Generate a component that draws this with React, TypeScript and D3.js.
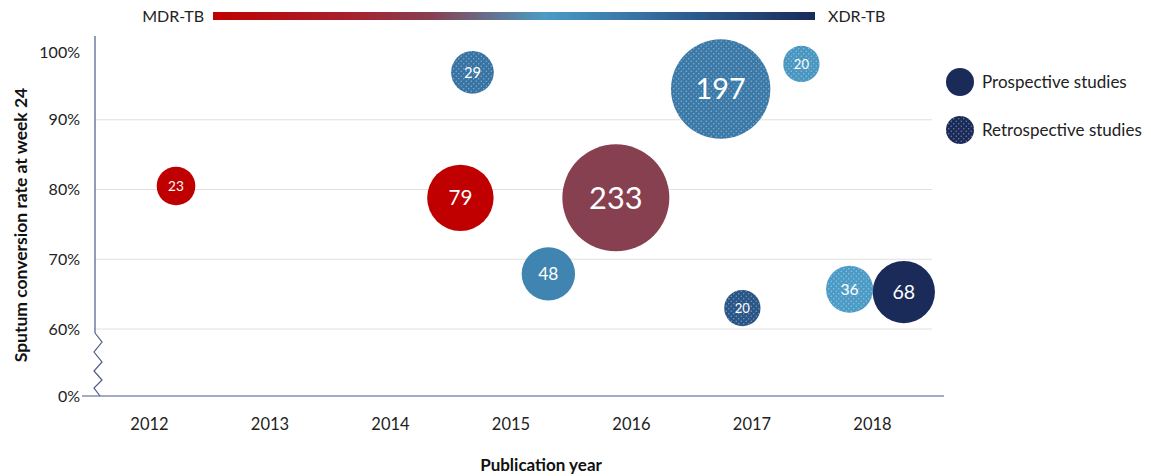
import React from "react";
import * as d3 from "d3";

// ---- data ----
const years = [2012, 2013, 2014, 2015, 2016, 2017, 2018];
const yTicks = [0, 60, 70, 80, 90, 100];
const gridTicks = [60, 70, 80, 90];
// studies
const pubDate = [2012.22, 2014.58, 2014.68, 2015.31, 2015.87, 2016.74, 2016.92, 2017.41, 2017.81, 2018.26];
const conversion = [80.5, 78.8, 96.8, 67.9, 78.8, 94.4, 63.0, 98.0, 65.7, 65.3];
const sampleSize = [23, 79, 29, 48, 233, 197, 20, 20, 36, 68];
const xdrShare = [0, 0, 0.7, 0.64, 0.36, 0.68, 0.82, 0.57, 0.55, 1];
const design = ["P", "P", "R", "P", "P", "R", "R", "R", "R", "P"];
const gradientStops = [0, 0.22, 0.36, 0.55, 0.8, 1];
const legendItems = ["Prospective studies", "Retrospective studies"];

const W = 1151;
const H = 476;

export default function App() {
  const x = d3.scaleLinear().domain([2012, 2018]).range([149.5, 872.5]);
  const y = d3.scaleLinear().domain([0, 60, 100]).range([396, 329, 50]);
  const r = d3.scalePow().exponent(0.44).domain([0, 233]).range([0, 53.5]);
  const gradColors = ["#c00000", "#a8202c", "#86404f", "#4b9bc6", "#2c5a8c", "#1a2b5a"];
  const color = d3.scaleLinear<string>().domain(gradientStops).range(gradColors).interpolate(d3.interpolateRgb);

  const axisX0 = 95;
  const gridX1 = 932;
  const font = "Lato, 'Open Sans', sans-serif";

  // zigzag break path
  const zz = d3.line()([
    [axisX0, 333], [102, 342], [94, 352], [102, 362], [94, 371], [102, 380], [94, 388], [100, 396],
  ]);

  const gradBar = { x0: 213, x1: 815, y: 12, h: 8 };

  const data = pubDate.map((d, i) => ({
    year: d, conv: conversion[i], n: sampleSize[i], t: xdrShare[i], design: design[i],
  }));
  const sorted = [...data].sort((a, b) => b.n - a.n);

  return (
    <svg width={W} height={H} style={{ position: "absolute", left: 0, top: 0, background: "#fff" }}>
      <defs>
        <linearGradient id="mdrxdr" x1="0" x2="1" y1="0" y2="0">
          {gradientStops.map((s, i) => (
            <stop key={i} offset={s} stopColor={gradColors[i]} />
          ))}
        </linearGradient>
        <pattern id="dots" width={5} height={5} patternUnits="userSpaceOnUse">
          <circle cx={1.25} cy={1.25} r={0.65} fill="#fff" fillOpacity={0.45} />
          <circle cx={3.75} cy={3.75} r={0.65} fill="#fff" fillOpacity={0.45} />
        </pattern>
      </defs>

      {/* gradient legend */}
      <rect x={gradBar.x0} y={gradBar.y} width={gradBar.x1 - gradBar.x0} height={gradBar.h} fill="url(#mdrxdr)" />
      <text x={gradBar.x0 - 9} y={gradBar.y + gradBar.h / 2} dy="0.35em" textAnchor="end" fontFamily={font} fontSize={16} fill="#222">MDR-TB</text>
      <text x={gradBar.x1 + 13} y={gradBar.y + gradBar.h / 2} dy="0.35em" textAnchor="start" fontFamily={font} fontSize={16} fill="#222">XDR-TB</text>

      {/* gridlines */}
      {gridTicks.map((t) => (
        <line key={t} x1={axisX0} x2={gridX1} y1={y(t)} y2={y(t)} stroke="#e0e0e0" strokeWidth={1.2} />
      ))}

      {/* axes */}
      <line x1={axisX0} x2={axisX0} y1={36} y2={333} stroke="#4a5a8a" strokeWidth={1.2} />
      <path d={zz || ""} fill="none" stroke="#4a5a8a" strokeWidth={1.2} />
      <line x1={82} x2={944} y1={y(0)} y2={y(0)} stroke="#4a5a8a" strokeWidth={1.2} />

      {/* y tick labels */}
      {yTicks.map((t) => (
        <text key={t} x={80} y={t === 100 ? 52 : y(t)} dy="0.35em" textAnchor="end" fontFamily={font} fontSize={16} fill="#222">
          {t}%
        </text>
      ))}

      {/* x tick labels */}
      {years.map((yr) => (
        <text key={yr} x={x(yr)} y={424} dy="0.35em" textAnchor="middle" fontFamily={font} fontSize={16.5} fill="#222">
          {yr}
        </text>
      ))}

      {/* axis titles */}
      <text x={541} y={465} dy="0.35em" textAnchor="middle" fontFamily={font} fontWeight={700} fontSize={17} fill="#111">
        Publication year
      </text>
      <text transform={`translate(21,225) rotate(-90)`} dy="0.35em" textAnchor="middle" fontFamily={font} fontWeight={700} fontSize={17.5} fill="#111">
        Sputum conversion rate at week 24
      </text>

      {/* bubbles */}
      {sorted.map((d, i) => {
        const cx = x(d.year);
        const cy = y(d.conv);
        const rr = r(d.n);
        return (
          <g key={i}>
            <circle cx={cx} cy={cy} r={rr} fill={color(d.t)} />
            {d.design === "R" && <circle cx={cx} cy={cy} r={rr} fill="url(#dots)" />}
            <text x={cx} y={cy} dy="0.36em" textAnchor="middle" fontFamily={font} fontSize={4 + rr * 0.5} fill="#fff">
              {d.n}
            </text>
          </g>
        );
      })}

      {/* design legend */}
      {legendItems.map((lab, i) => {
        const cy = 82 + i * 48;
        return (
          <g key={lab}>
            <circle cx={960} cy={cy} r={14} fill={color(1)} />
            {i === 1 && <circle cx={960} cy={cy} r={14} fill="url(#dots)" />}
            <text x={982} y={cy} dy="0.35em" fontFamily={font} fontSize={17} fill="#222">{lab}</text>
          </g>
        );
      })}
    </svg>
  );
}
